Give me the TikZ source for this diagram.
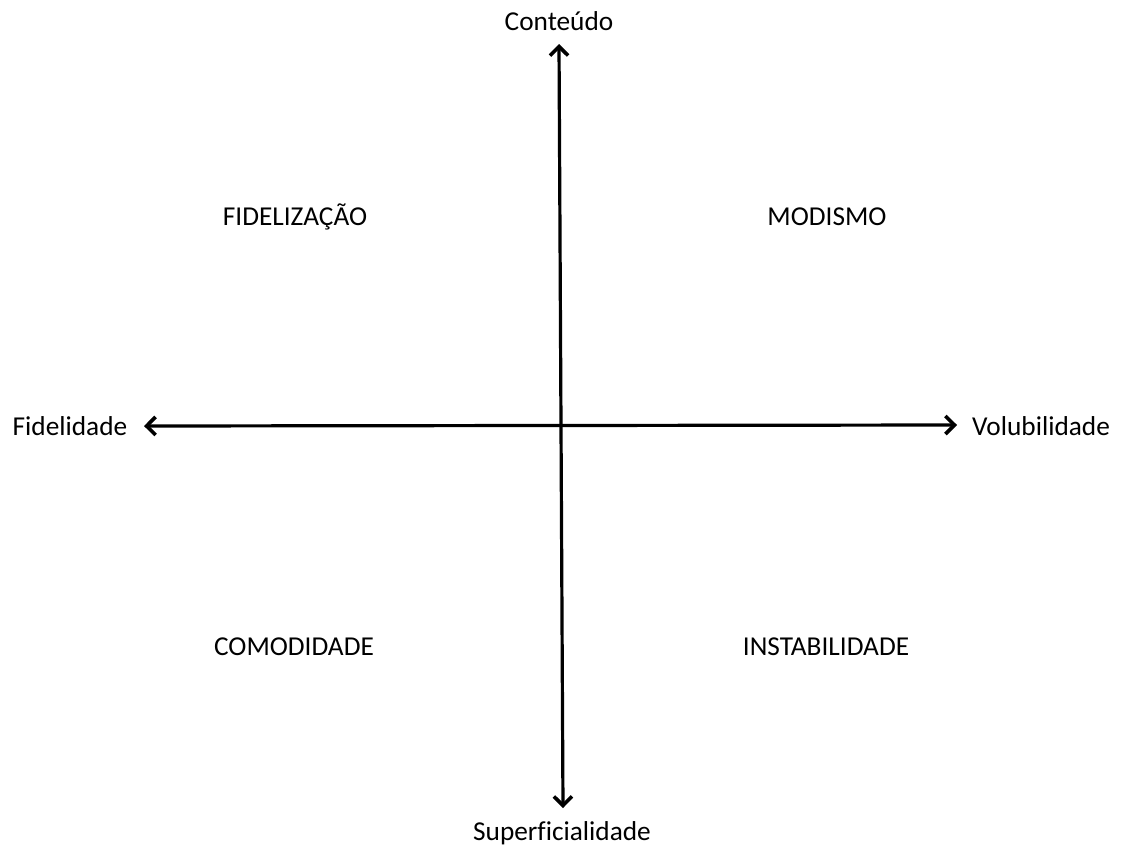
\documentclass[tikz,border=0pt]{standalone}
\usepackage{fontspec}
\setmainfont{Carlito}[Ligatures=NoCommon]
\usetikzlibrary{arrows.meta}
\begin{document}
\begin{tikzpicture}[x=1pt,y=-1pt,
  axis/.style={line width=3.2pt,{Straight Barb[length=9pt,width=18pt,line width=3.6pt]}-{Straight Barb[length=9pt,width=18pt,line width=3.6pt]}},
  lbl/.style={font=\fontsize{27.3}{32}\selectfont,inner sep=0pt}]
\useasboundingbox (0,0) rectangle (1122,849);
\coordinate (top) at (559,44);
\coordinate (bot) at (563,808);
\coordinate (lft) at (144,426);
\coordinate (rgt) at (957,425);
\draw[axis] (bot) -- (top);
\draw[axis] (lft) -- (rgt);
\node[lbl] (c) at (559,21) {Conteúdo};
\node[lbl] (s) at (562,833) {Superficialidade};
\node[lbl] (f) at (70,426) {Fidelidade};
\node[lbl] (v) at (1041,426) {Volubilidade};
\node[lbl] (q1) at (295,217) {FIDELIZAÇÃO};
\node[lbl] (q2) at (827,217) {MODISMO};
\node[lbl] (q3) at (294,647) {COMODIDADE};
\node[lbl] (q4) at (826,647) {INSTABILIDADE};
\end{tikzpicture}
\end{document}
